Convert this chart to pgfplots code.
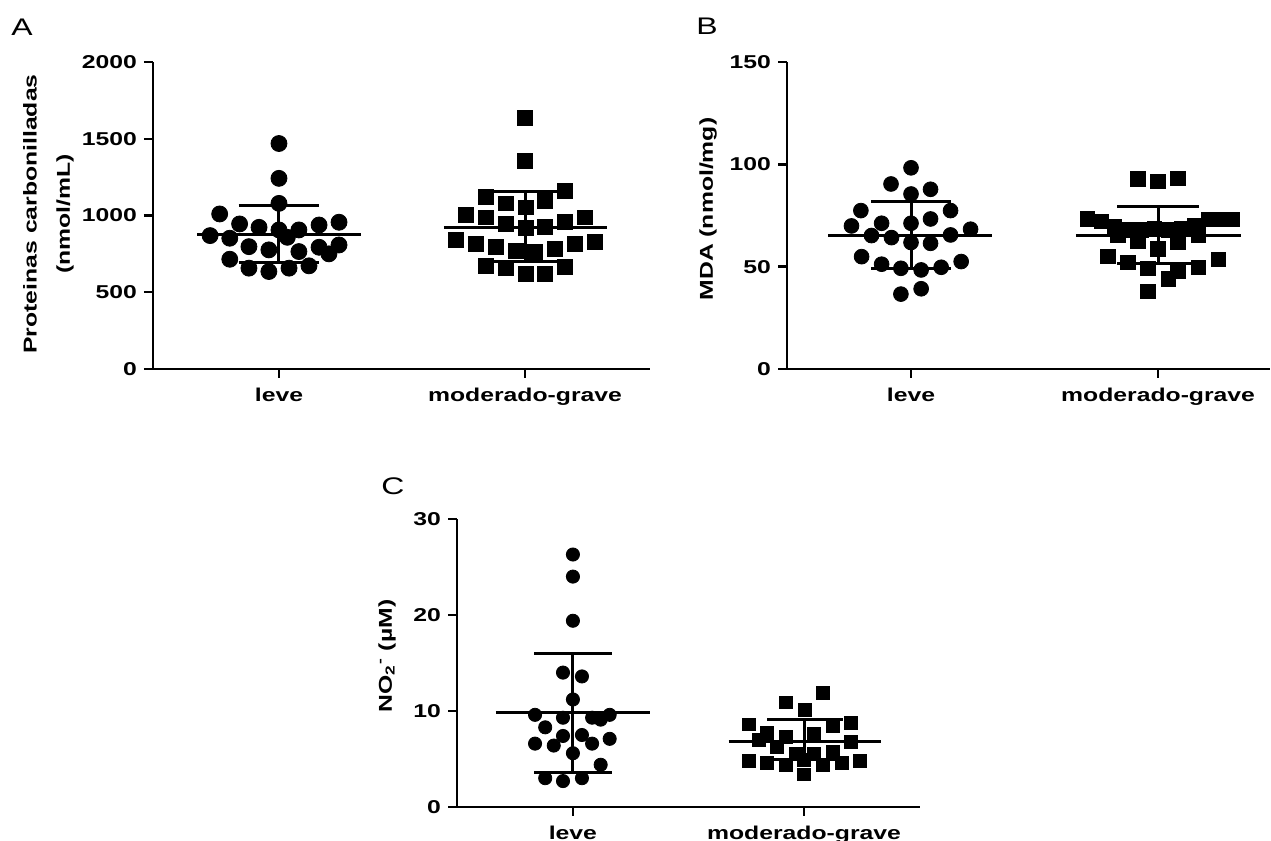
\documentclass[border=0pt]{standalone}
\usepackage{fontspec}
\setmainfont{Liberation Sans}[FakeStretch=1.33]
\usepackage{pgfplots}
\pgfplotsset{compat=1.18}

\pgfplotsset{
  dotplot/.style={
    scale only axis,
    axis x line*=bottom, axis y line*=left,
    axis line style={line width=1.2pt},
    tick align=outside,
    major tick length=4.5pt,
    tick style={line width=1.2pt, black},
    xtick={1,2}, xticklabels={leve, moderado-grave},
    ticklabel style={font=\fontsize{9.3}{10}\selectfont\bfseries},
    xticklabel style={yshift=-1.5pt},
    /pgf/number format/assume math mode=true,
    /pgf/number format/1000 sep={},
    ylabel style={font=\fontsize{9.3}{10}\selectfont\bfseries, anchor=center},
    clip=false,
  },
  pts/.style={only marks, mark=*, mark size=#1, black},
  sq/.style={only marks, mark=square*, mark size=#1, black},
  bar/.style={black, line width=1.5pt, forget plot},
}

\begin{document}
\begin{tikzpicture}
\useasboundingbox (0,0) rectangle (635.5pt,420.5pt);

% panel letters
\node[font=\fontsize{12}{14}\selectfont] at (11pt,407pt) {A};
\node[font=\fontsize{12}{14}\selectfont] at (353.5pt,407.5pt) {B};
\node[font=\fontsize{12}{14}\selectfont] at (196.5pt,177.5pt) {C};

% ---- A ----
\begin{axis}[dotplot,
  at={(76.5pt,236pt)}, anchor=south west,
  width=248.5pt, height=153.5pt,
  xmin=0.488, xmax=2.508, ymin=0, ymax=2000,
  ytick={0,500,1000,1500,2000},
  ylabel={Proteinas carbonilladas},
  ylabel style={at={(axis description cs:-0.2475,0.505)}},
]
\addplot[pts=4pt] coordinates {
(1.000,1469) (1.000,1242) (1.000,1079) (0.759,1010) (0.840,945) (0.919,923)
(1.000,906) (1.081,906) (1.163,938) (1.244,956) (0.720,869) (0.800,852)
(1.034,858) (0.878,797) (0.959,776) (1.081,765) (1.163,793) (1.203,750)
(1.244,808) (0.800,715) (0.878,657) (0.959,635) (1.041,657) (1.122,672)
};
\addplot[sq=3.7pt] coordinates {
(2.000,1638) (2.000,1354) (2.163,1159) (1.840,1122) (1.921,1079) (2.081,1096)
(2.003,1053) (1.759,1003) (1.840,988) (1.921,945) (2.003,917) (2.081,927)
(2.163,960) (2.244,988) (1.718,841) (1.800,813) (1.881,793) (1.962,769)
(2.041,765) (2.122,780) (2.203,815) (2.285,826) (1.840,674) (1.921,657)
(2.003,618) (2.081,618) (2.163,667)
};
\addplot[bar] coordinates {(0.667,878) (1.333,878)};
\addplot[bar] coordinates {(1,696) (1,1066)};
\addplot[bar] coordinates {(0.836,1066) (1.164,1066)};
\addplot[bar] coordinates {(0.836,696) (1.164,696)};
\addplot[bar] coordinates {(1.670,921) (2.335,921)};
\addplot[bar] coordinates {(2,700) (2,1155)};
\addplot[bar] coordinates {(1.850,1155) (2.160,1155)};
\addplot[bar] coordinates {(1.850,700) (2.160,700)};
\node[rotate=90, font=\fontsize{9.3}{10}\selectfont\bfseries] at (axis description cs:-0.177,0.505) {(nmol/mL)};
\end{axis}

% ---- B ----
\begin{axis}[dotplot,
  at={(393.5pt,236pt)}, anchor=south west,
  width=241.5pt, height=153.5pt,
  xmin=0.498, xmax=2.453, ymin=0, ymax=150,
  ytick={0,50,100,150},
  ylabel={MDA (nmol/mg)},
  ylabel style={at={(axis description cs:-0.1636,0.521)}},
]
\addplot[pts=3.7pt] coordinates {
(1.000,98.3) (0.919,90.4) (1.079,87.8) (1.000,85.5) (0.797,77.4) (1.160,77.4)
(0.759,69.9) (0.881,71.2) (1.000,71.2) (1.079,73.3) (1.241,68.3) (0.840,65.2)
(0.921,64.2) (1.000,61.8) (1.079,61.4) (1.160,65.5) (0.800,54.9) (0.881,51.2)
(0.959,49.2) (1.041,48.4) (1.122,49.7) (1.203,52.5) (0.959,36.6) (1.041,39.2)
};
\addplot[sq=3.6pt] coordinates {
(1.919,92.8) (2.000,91.8) (2.081,93.1) (1.715,73.3) (1.770,72.0) (1.824,69.6)
(1.878,67.9) (1.932,67.9) (1.986,68.7) (2.041,67.9) (2.095,68.7) (2.149,70.0)
(2.203,73.1) (2.257,73.1) (2.298,73.1) (1.837,65.5) (1.919,62.6) (2.000,58.7)
(2.081,61.8) (2.163,65.5) (1.797,54.9) (1.878,52.2) (1.959,49.2) (2.041,44.0)
(2.081,47.6) (2.163,49.6) (2.244,53.6) (1.959,37.9)
};
\addplot[bar] coordinates {(0.664,65.3) (1.329,65.3)};
\addplot[bar] coordinates {(1,49.2) (1,81.7)};
\addplot[bar] coordinates {(0.840,81.7) (1.160,81.7)};
\addplot[bar] coordinates {(0.840,49.2) (1.160,49.2)};
\addplot[bar] coordinates {(1.667,65.3) (2.335,65.3)};
\addplot[bar] coordinates {(2,51.7) (2,79.3)};
\addplot[bar] coordinates {(1.835,79.3) (2.165,79.3)};
\addplot[bar] coordinates {(1.835,51.7) (2.165,51.7)};
\end{axis}

% ---- C ----
\begin{axis}[dotplot,
  at={(225pt,17pt)}, anchor=south west,
  width=235pt, height=144pt,
  xmin=0.468, xmax=2.502, ymin=0, ymax=30,
  ytick={0,10,20,30},
  axis y line shift=-3.5pt,
  ylabel={NO\textsubscript{2}\textsuperscript{-} (µM)},
  ylabel style={at={(axis description cs:-0.134,0.524)}},
]
\addplot[pts=3.3pt] coordinates {
(1.000,26.3) (1.000,24.0) (1.000,19.4) (0.957,14.0) (1.039,13.6) (1.000,11.2)
(0.836,9.6) (0.957,9.3) (1.083,9.3) (1.120,9.1) (1.159,9.6) (0.880,8.3)
(0.957,7.4) (1.039,7.5) (0.836,6.6) (0.917,6.4) (1.083,6.6) (1.159,7.1)
(1.000,5.6) (1.120,4.4) (0.880,3.0) (0.957,2.7) (1.039,3.0)
};
\addplot[sq=3.2pt] coordinates {
(2.083,11.9) (1.923,10.9) (2.004,10.1) (1.761,8.6) (2.203,8.8) (2.126,8.4)
(1.841,7.7) (1.920,7.3) (2.043,7.6) (1.804,7.0) (1.881,6.3) (2.203,6.8)
(1.964,5.5) (2.043,5.5) (2.126,5.7) (1.761,4.8) (1.841,4.6) (1.920,4.4)
(2.000,4.9) (2.083,4.4) (2.164,4.6) (2.242,4.8) (2.000,3.4)
};
\addplot[bar] coordinates {(0.667,9.8) (1.333,9.8)};
\addplot[bar] coordinates {(1,3.6) (1,16.0)};
\addplot[bar] coordinates {(0.833,16.0) (1.167,16.0)};
\addplot[bar] coordinates {(0.833,3.6) (1.167,3.6)};
\addplot[bar] coordinates {(1.674,6.8) (2.333,6.8)};
\addplot[bar] coordinates {(2,4.9) (2,9.1)};
\addplot[bar] coordinates {(1.840,9.1) (2.167,9.1)};
\addplot[bar] coordinates {(1.840,4.9) (2.167,4.9)};
\end{axis}
\end{tikzpicture}
\end{document}
